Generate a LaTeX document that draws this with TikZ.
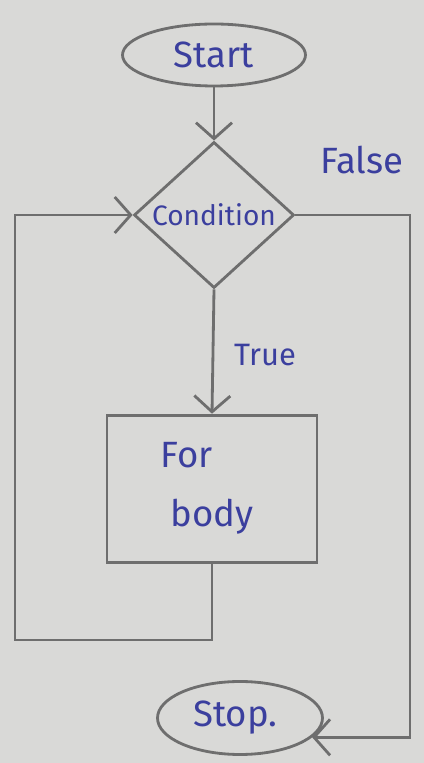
\documentclass[tikz,border=0pt]{standalone}
\usepackage{fontspec}
\setmainfont{Fira Sans}
\usetikzlibrary{shapes.geometric,arrows.meta}
\definecolor{pencil}{HTML}{6E6E6E}
\definecolor{ink}{HTML}{3B3F9E}
\definecolor{paper}{HTML}{D9D9D7}

\begin{document}
\begin{tikzpicture}[x=1cm, y=1cm,
  line/.style={draw=pencil, line width=2pt},
  flow/.style={line, -{Straight Barb[length=4mm, width=9mm]}},
  txt/.style={text=ink, font=\fontsize{26}{30}\selectfont}]

% Paper
\fill[paper] (0,0) rectangle (10.6,19.075);
\useasboundingbox (0,0) rectangle (10.6,19.075);

% Terminals
\node[ellipse, line, txt, minimum width=4.575cm, minimum height=1.55cm, inner sep=0] (start) at (5.35,17.7) {Start};
\node[ellipse, line, txt, minimum width=4.125cm, minimum height=1.825cm, inner sep=0] (stop) at (6.0,1.125) {Stop.\ \ };

% Test
\node[diamond, line, txt, font=\fontsize{20}{24}\selectfont, minimum width=4cm, minimum height=3.65cm, inner sep=0] (cond) at (5.35,13.7) {Condition};

% Body of the loop
\node[rectangle, line, txt, align=left, minimum width=5.25cm, minimum height=3.675cm] (body) at (5.3,6.86) {For\\[12pt]\ body\ \ };

% Labels
\node[txt] (false) at (9.05,15.075) {False};
\node[txt, font=\fontsize{22}{26}\selectfont] (true) at (6.625,10.2) {True};

% Connectors
\coordinate (fr) at (10.25,5);
\coordinate (lb) at (0.375,3.075);
\draw[flow] (start.south) -- (cond.north);
\draw[flow] (cond.south) -- (body.north);
\draw[flow] (body.south) |- (lb) |- (cond.west);
\draw[flow] (cond.east) -| (fr) |- (stop.-15);

\end{tikzpicture}
\end{document}
